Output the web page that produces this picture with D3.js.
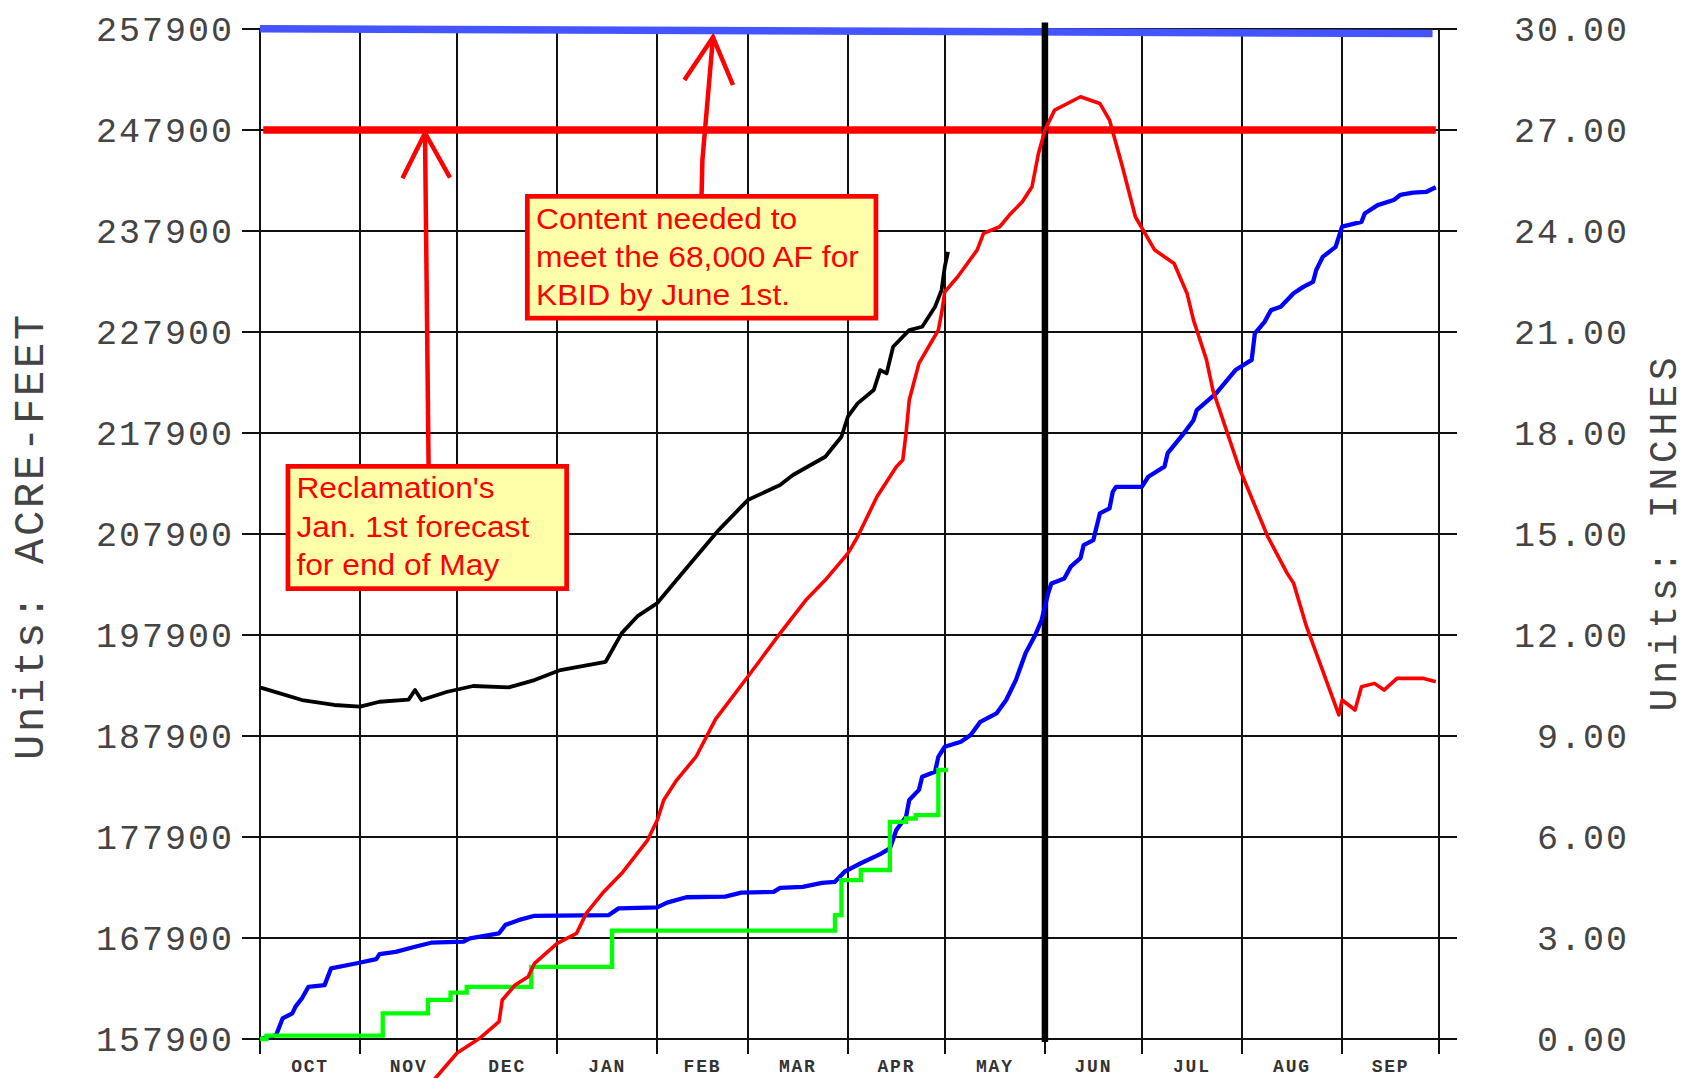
<!DOCTYPE html>
<html><head><meta charset="utf-8">
<script src="https://cdn.jsdelivr.net/npm/d3@7"></script>
<style>body{margin:0;background:#fff;overflow:hidden}</style>
</head><body>
<svg id="c" width="1690" height="1078"></svg>
<script>
// ---------------- DATA ----------------
const monthLabels = ["OCT","NOV","DEC","JAN","FEB","MAR","APR","MAY","JUN","JUL","AUG","SEP"];
const leftTicks = [157900,167900,177900,187900,197900,207900,217900,227900,237900,247900,257900];
const rightTicks = [0,3,6,9,12,15,18,21,24,27,30];
const leftTitle = "Units: ACRE-FEET";
const rightTitle = "Units: INCHES";
const markerDate = "2014-06-01";

// target lines (acre-feet)
const targetFull = [["2013-10-01",257920],["2014-09-29",257450]];
const targetForecast = [["2013-10-02",247900],["2014-09-30",247900]];

// current-year storage (acre-feet)
const storageCurrent = [
["2013-10-01",192700],["2013-10-02",192620],["2013-10-14",191460],["2013-10-24",190970],
["2013-11-01",190800],["2013-11-07",191290],["2013-11-16",191500],["2013-11-18",192450],
["2013-11-20",191460],["2013-11-28",192280],["2013-12-06",192850],["2013-12-17",192720],
["2013-12-25",193440],["2014-01-02",194430],["2014-01-16",195250],["2014-01-21",198090],
["2014-01-26",199800],["2014-02-01",201060],["2014-02-10",204500],["2014-02-20",208290],
["2014-03-01",211260],["2014-03-11",212750],["2014-03-15",213740],["2014-03-25",215550],
["2014-03-30",217530],["2014-04-01",219510],["2014-04-04",220830],["2014-04-09",222150],
["2014-04-11",224130],["2014-04-13",223800],["2014-04-15",226440],["2014-04-20",228090],
["2014-04-24",228420],["2014-04-28",230400],["2014-04-30",232050],["2014-05-01",234360],
["2014-05-02",235840]
];

// comparison-year storage (acre-feet)
const storageOther = [
["2013-11-21",153000],["2013-11-24",153910],["2013-12-01",156510],["2013-12-08",157970],
["2013-12-14",159610],["2013-12-15",161760],["2013-12-19",163250],["2013-12-23",164070],
["2013-12-25",165390],["2014-01-01",167370],["2014-01-07",168360],["2014-01-10",170340],
["2014-01-15",172320],["2014-01-21",174300],["2014-01-29",177600],["2014-02-01",179580],
["2014-02-03",181560],["2014-02-07",183540],["2014-02-13",185850],["2014-02-19",189550],
["2014-03-01",193770],["2014-03-11",198060],["2014-03-19",201360],["2014-03-25",203340],
["2014-04-01",205980],["2014-04-04",207630],["2014-04-10",211590],["2014-04-16",214560],
["2014-04-18",215220],["2014-04-19",217860],["2014-04-20",221160],["2014-04-23",224790],
["2014-04-26",226440],["2014-04-29",228090],["2014-04-30",229740],["2014-05-01",231880],
["2014-05-05",233370],["2014-05-11",236010],["2014-05-13",237660],["2014-05-18",238320],
["2014-05-21",239480],["2014-05-25",240790],["2014-05-28",242280],["2014-05-30",245580],
["2014-06-01",247890],["2014-06-04",249870],["2014-06-12",251190],["2014-06-18",250530],
["2014-06-21",248880],["2014-06-25",244260],["2014-06-29",239310],["2014-07-05",236010],
["2014-07-11",234690],["2014-07-15",231720],["2014-07-17",229080],["2014-07-21",225170],
["2014-07-23",222150],["2014-07-31",214560],["2014-08-09",207630],["2014-08-15",204000],
["2014-08-17",203010],["2014-08-21",198720],["2014-08-31",190000],["2014-09-01",191460],
["2014-09-05",190470],["2014-09-07",192780],["2014-09-11",193110],["2014-09-14",192450],
["2014-09-18",193610],["2014-09-26",193610],["2014-09-30",193270]
];

// average precipitation (inches)
const precipAverage = [
["2013-10-01",0.00],["2013-10-02",0.02],["2013-10-06",0.12],["2013-10-08",0.61],
["2013-10-11",0.76],["2013-10-12",0.96],["2013-10-14",1.21],["2013-10-16",1.55],
["2013-10-21",1.60],["2013-10-23",2.10],["2013-10-31",2.25],["2013-11-06",2.37],
["2013-11-07",2.52],["2013-11-12",2.59],["2013-11-18",2.74],["2013-11-23",2.86],
["2013-12-03",2.89],["2013-12-05",2.99],["2013-12-14",3.14],["2013-12-16",3.39],
["2013-12-20",3.53],["2013-12-25",3.66],["2014-01-17",3.68],["2014-01-20",3.88],
["2014-02-01",3.91],["2014-02-04",4.05],["2014-02-10",4.21],["2014-02-22",4.23],
["2014-02-27",4.35],["2014-03-09",4.37],["2014-03-11",4.49],["2014-03-18",4.52],
["2014-03-24",4.64],["2014-03-28",4.67],["2014-03-31",4.97],["2014-04-05",5.22],
["2014-04-11",5.49],["2014-04-14",5.66],["2014-04-16",6.21],["2014-04-19",6.60],
["2014-04-20",7.10],["2014-04-23",7.40],["2014-04-24",7.79],["2014-04-28",7.94],
["2014-04-29",8.38],["2014-05-01",8.68],["2014-05-06",8.83],["2014-05-09",9.03],
["2014-05-12",9.42],["2014-05-17",9.67],["2014-05-20",10.07],["2014-05-23",10.66],
["2014-05-26",11.46],["2014-05-29",12.00],["2014-05-31",12.45],["2014-06-02",13.24],
["2014-06-03",13.53],["2014-06-07",13.68],["2014-06-09",14.03],["2014-06-12",14.28],
["2014-06-13",14.67],["2014-06-16",14.82],["2014-06-18",15.61],["2014-06-21",15.76],
["2014-06-22",16.25],["2014-06-23",16.40],["2014-07-01",16.40],["2014-07-03",16.70],
["2014-07-08",17.00],["2014-07-09",17.40],["2014-07-14",17.99],["2014-07-17",18.38],
["2014-07-18",18.68],["2014-07-24",19.18],["2014-07-30",19.87],["2014-08-04",20.17],
["2014-08-05",20.96],["2014-08-08",21.30],["2014-08-10",21.65],["2014-08-13",21.75],
["2014-08-17",22.15],["2014-08-20",22.34],["2014-08-23",22.49],["2014-08-24",22.84],
["2014-08-26",23.23],["2014-08-30",23.53],["2014-09-01",24.13],["2014-09-07",24.27],
["2014-09-08",24.52],["2014-09-12",24.77],["2014-09-17",24.92],["2014-09-19",25.07],
["2014-09-23",25.14],["2014-09-27",25.16],["2014-09-30",25.30]
];

// current-year precipitation (inches, step)
const precipCurrent = [
["2013-10-01",0.00],["2013-10-03",0.10],["2013-11-08",0.76],["2013-11-22",1.16],
["2013-11-29",1.38],["2013-12-04",1.55],["2013-12-24",2.14],["2014-01-18",3.22],
["2014-03-28",3.68],["2014-03-30",4.72],["2014-04-05",5.02],["2014-04-14",6.45],
["2014-04-19",6.55],["2014-04-22",6.65],["2014-04-29",7.99],["2014-05-02",7.99]
];

const noteForecast = ["Reclamation's","Jan. 1st forecast","for end of May"];
const noteContent = ["Content needed to","meet the 68,000 AF for","KBID by June 1st."];

// ---------------- CHART ----------------
const parse = d3.utcParse("%Y-%m-%d");
const svg = d3.select("#c");
const X0 = 260, X1 = 1439, YT = 29, YB = 1039;
const x = d3.scaleUtc().domain([parse("2013-10-01"), parse("2014-10-01")]).range([X0, X1]);
const yL = d3.scaleLinear().domain([157900, 257900]).range([YB, YT]);
const yR = d3.scaleLinear().domain([0, 30]).range([YB, YT]);

const monthStarts = d3.utcMonth.range(parse("2013-10-01"), parse("2014-10-02"));

const grid = svg.append("g").attr("stroke", "#111").attr("stroke-width", 2).attr("shape-rendering", "crispEdges");
grid.selectAll("line.h").data(leftTicks).join("line")
  .attr("x1", 242).attr("x2", 1457)
  .attr("y1", d => Math.round(yL(d))).attr("y2", d => Math.round(yL(d)));
grid.selectAll("line.v").data(monthStarts).join("line")
  .attr("x1", d => Math.round(x(d))).attr("x2", d => Math.round(x(d)))
  .attr("y1", YT).attr("y2", 1054);

// tick labels
const tickFont = "'Liberation Mono', 'DejaVu Sans Mono', monospace";
svg.append("g").selectAll("text").data(leftTicks).join("text")
  .attr("x", 234).attr("y", d => yL(d)).attr("dy", "0.34em")
  .attr("text-anchor", "end").attr("font-family", tickFont).attr("font-size", 35)
  .attr("letter-spacing", 2).attr("fill", "#444").text(d => d);
const fmtR = d3.format(".2f");
svg.append("g").selectAll("text").data(rightTicks).join("text")
  .attr("x", 1629).attr("y", d => yR(d)).attr("dy", "0.34em")
  .attr("text-anchor", "end").attr("font-family", tickFont).attr("font-size", 35)
  .attr("letter-spacing", 2).attr("fill", "#444").text(d => fmtR(d));

// month labels
svg.append("g").selectAll("text").data(monthLabels).join("text")
  .attr("x", (d, i) => (x(monthStarts[i]) + x(monthStarts[i + 1])) / 2)
  .attr("y", 1072).attr("text-anchor", "middle")
  .attr("font-family", tickFont).attr("font-weight", "bold").attr("font-size", 18)
  .attr("letter-spacing", 1.8).attr("fill", "#333").text(d => d);

// axis titles
svg.append("text").attr("transform", "translate(43,536) rotate(-90)")
  .attr("text-anchor", "middle").attr("font-family", tickFont).attr("font-size", 42)
  .attr("letter-spacing", 2.8).attr("fill", "#444").text(leftTitle);
svg.append("text").attr("transform", "translate(1676,532) rotate(-90)")
  .attr("text-anchor", "middle").attr("font-family", tickFont).attr("font-size", 38)
  .attr("letter-spacing", 4.8).attr("fill", "#444").text(rightTitle);

// helper
const lineL = d3.line().x(d => x(parse(d[0]))).y(d => yL(d[1]));
const lineR = d3.line().x(d => x(parse(d[0]))).y(d => yR(d[1]));
const stepR = d3.line().curve(d3.curveStepAfter).x(d => x(parse(d[0]))).y(d => yR(d[1]));

// target lines
svg.append("path").attr("d", lineL(targetForecast)).attr("fill", "none")
  .attr("stroke", "#ff0000").attr("stroke-width", 7.5);
svg.append("path").attr("d", lineL(targetFull)).attr("fill", "none")
  .attr("stroke", "#4455ff").attr("stroke-width", 7.5);

// June 1 marker
const mx = x(parse(markerDate));
svg.append("line").attr("x1", mx).attr("x2", mx).attr("y1", 22.5).attr("y2", 1042)
  .attr("stroke", "#000").attr("stroke-width", 6.5);

// curves
svg.append("path").attr("d", lineR(precipAverage)).attr("fill", "none")
  .attr("stroke", "#0000ff").attr("stroke-width", 4.3).attr("stroke-linejoin", "round");
svg.append("path").attr("d", stepR(precipCurrent)).attr("fill", "none")
  .attr("stroke", "#00ff00").attr("stroke-width", 4.3);
svg.append("path").attr("d", lineL(storageOther)).attr("fill", "none")
  .attr("stroke", "#ff0000").attr("stroke-width", 3.6).attr("stroke-linejoin", "round");
svg.append("path").attr("d", lineL(storageCurrent)).attr("fill", "none")
  .attr("stroke", "#000").attr("stroke-width", 3.8).attr("stroke-linejoin", "round");

// annotations
const ann = svg.append("g");
const arrowStyle = s => s.attr("fill", "none").attr("stroke", "#ff0000").attr("stroke-width", 4.5);
ann.append("path").attr("d", "M428.6,466 L425,133").call(arrowStyle);
ann.append("path").attr("d", "M402.5,178.3 L425,133 L450,177.7").call(arrowStyle);
ann.append("path").attr("d", "M701.6,195 L702.4,160 L713,37.3").call(arrowStyle);
ann.append("path").attr("d", "M684.4,80 L713,37.3 L733,85").call(arrowStyle);

function noteBox(bx, by, bw, bh, lines, tx, ty0, lh) {
  ann.append("rect").attr("x", bx + 2.35).attr("y", by + 2.35)
    .attr("width", bw - 4.7).attr("height", bh - 4.7)
    .attr("fill", "#ffffaa").attr("stroke", "#ff0000").attr("stroke-width", 4.7);
  lines.forEach((t, i) => {
    ann.append("text").attr("transform", `translate(${tx},${ty0 + i * lh}) scale(1.095,1)`)
      .attr("font-family", "'Liberation Sans', Arial, sans-serif").attr("font-size", 29)
      .attr("fill", "#ff0000").text(t);
  });
}
noteBox(525, 194, 353.3, 126.5, noteContent, 536, 228.5, 38.4);
noteBox(285.6, 464, 283.4, 127, noteForecast, 296.4, 498.3, 38.2);
</script>
</body></html>
